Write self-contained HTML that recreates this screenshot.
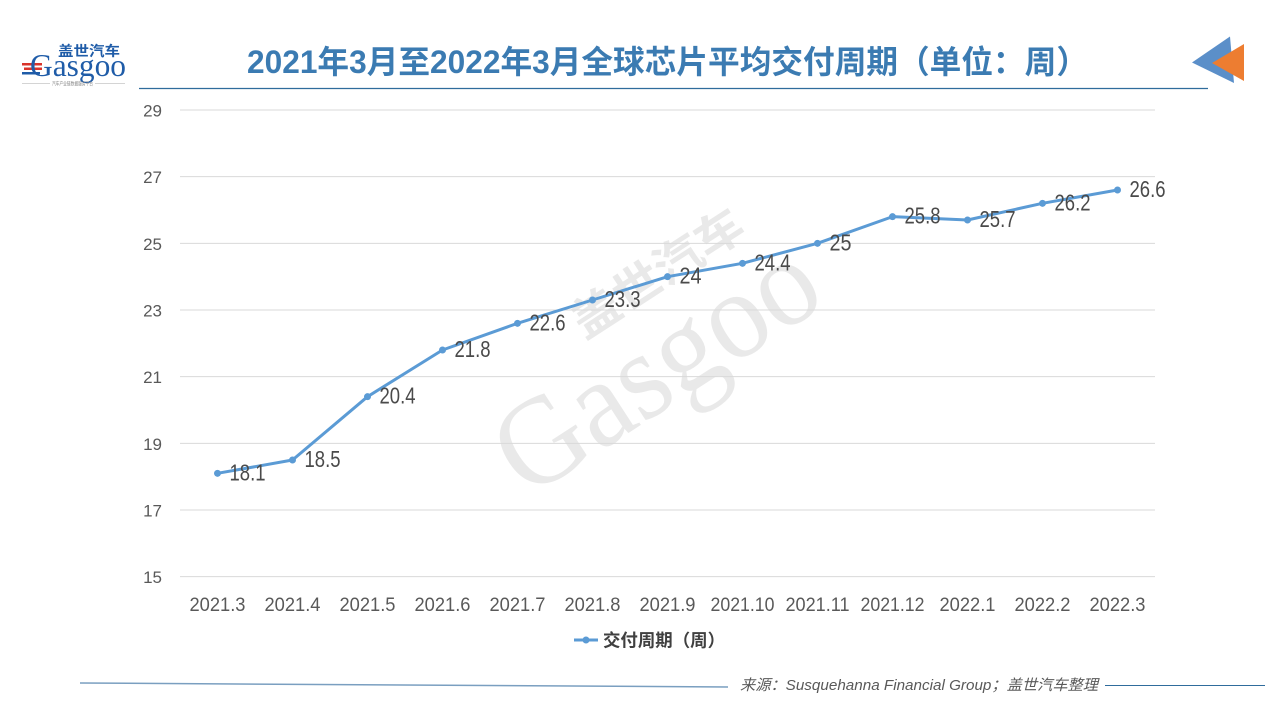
<!DOCTYPE html>
<html>
<head>
<meta charset="utf-8">
<style>
html,body{margin:0;padding:0;background:#fff;}
body{width:1280px;height:720px;overflow:hidden;}
svg{display:block;}
</style>
</head>
<body>
<svg width="1280" height="720" viewBox="0 0 1280 720" xmlns="http://www.w3.org/2000/svg" font-family="'Liberation Sans','Noto Sans CJK SC',sans-serif">
  <rect width="1280" height="720" fill="#ffffff"/>

  <!-- Logo -->
  <g>
    <text x="58" y="56" font-size="14" font-weight="bold" fill="#1f5ca8" textLength="62" lengthAdjust="spacingAndGlyphs" font-family="'Liberation Sans','Noto Sans CJK SC',sans-serif">盖世汽车</text>
    <rect x="22" y="63" width="20" height="2.5" fill="#d9332b"/>
    <rect x="24" y="67.5" width="18" height="2.5" fill="#d9332b"/>
    <rect x="22" y="72" width="18" height="2.5" fill="#1f5ca8"/>
    <text x="30" y="76" font-size="32" fill="#1f5ca8" textLength="96" lengthAdjust="spacingAndGlyphs" font-family="'Liberation Serif',serif">Gasgoo</text>
    <line x1="22" y1="83.5" x2="50" y2="83.5" stroke="#aaa" stroke-width="0.6"/>
    <line x1="95" y1="83.5" x2="125" y2="83.5" stroke="#aaa" stroke-width="0.6"/>
    <text x="52" y="85.5" font-size="5" fill="#888" textLength="41" lengthAdjust="spacingAndGlyphs">汽车产业链数据服务平台</text>
  </g>

  <!-- Title -->
  <text x="247" y="73" font-size="32" font-weight="bold" fill="#3b7bb2" textLength="841" lengthAdjust="spacingAndGlyphs">2021年3月至2022年3月全球芯片平均交付周期（单位：周）</text>
  <line x1="139" y1="88.5" x2="1208" y2="88.5" stroke="#2f6c9c" stroke-width="1.2"/>

  <!-- Arrows top-right -->
  <polygon points="1192,62.5 1230,36.5 1234,83" fill="#5b8fc9"/>
  <polygon points="1212,63 1244,44 1244,81" fill="#ed7d31"/>

  <!-- Watermark -->
  <g transform="translate(652,370) rotate(-33)" fill="#e9e9e9">
    <text x="-175" y="40" font-size="125" font-family="'Liberation Serif',serif" textLength="360" lengthAdjust="spacingAndGlyphs">Gasgoo</text>
    <text x="-40" y="-62" font-size="46" font-weight="bold" textLength="195" lengthAdjust="spacingAndGlyphs">盖世汽车</text>
  </g>

  <!-- Gridlines -->
  <g stroke="#d9d9d9" stroke-width="1">
    <line x1="180" y1="110" x2="1155" y2="110"/>
    <line x1="180" y1="176.67" x2="1155" y2="176.67"/>
    <line x1="180" y1="243.33" x2="1155" y2="243.33"/>
    <line x1="180" y1="310" x2="1155" y2="310"/>
    <line x1="180" y1="376.67" x2="1155" y2="376.67"/>
    <line x1="180" y1="443.33" x2="1155" y2="443.33"/>
    <line x1="180" y1="510" x2="1155" y2="510"/>
    <line x1="180" y1="576.67" x2="1155" y2="576.67"/>
  </g>

  <!-- Y labels -->
  <g font-size="17" fill="#595959" text-anchor="end">
    <text x="162" y="116.5">29</text>
    <text x="162" y="183.2">27</text>
    <text x="162" y="249.8">25</text>
    <text x="162" y="316.5">23</text>
    <text x="162" y="383.2">21</text>
    <text x="162" y="449.8">19</text>
    <text x="162" y="516.5">17</text>
    <text x="162" y="583.2">15</text>
  </g>

  <!-- X labels -->
  <g font-size="19.5" fill="#595959" text-anchor="middle">
    <text x="217.5" y="611" textLength="56" lengthAdjust="spacingAndGlyphs">2021.3</text>
    <text x="292.5" y="611" textLength="56" lengthAdjust="spacingAndGlyphs">2021.4</text>
    <text x="367.5" y="611" textLength="56" lengthAdjust="spacingAndGlyphs">2021.5</text>
    <text x="442.5" y="611" textLength="56" lengthAdjust="spacingAndGlyphs">2021.6</text>
    <text x="517.5" y="611" textLength="56" lengthAdjust="spacingAndGlyphs">2021.7</text>
    <text x="592.5" y="611" textLength="56" lengthAdjust="spacingAndGlyphs">2021.8</text>
    <text x="667.5" y="611" textLength="56" lengthAdjust="spacingAndGlyphs">2021.9</text>
    <text x="742.5" y="611" textLength="64" lengthAdjust="spacingAndGlyphs">2021.10</text>
    <text x="817.5" y="611" textLength="64" lengthAdjust="spacingAndGlyphs">2021.11</text>
    <text x="892.5" y="611" textLength="64" lengthAdjust="spacingAndGlyphs">2021.12</text>
    <text x="967.5" y="611" textLength="56" lengthAdjust="spacingAndGlyphs">2022.1</text>
    <text x="1042.5" y="611" textLength="56" lengthAdjust="spacingAndGlyphs">2022.2</text>
    <text x="1117.5" y="611" textLength="56" lengthAdjust="spacingAndGlyphs">2022.3</text>
  </g>

  <!-- Series -->
  <polyline fill="none" stroke="#5b9bd5" stroke-width="3" stroke-linejoin="round" stroke-linecap="round"
    points="217.5,473.33 292.5,460 367.5,396.67 442.5,350 517.5,323.33 592.5,300 667.5,276.67 742.5,263.33 817.5,243.33 892.5,216.67 967.5,220 1042.5,203.33 1117.5,190"/>
  <g fill="#5b9bd5">
    <circle cx="217.5" cy="473.33" r="3.5"/>
    <circle cx="292.5" cy="460" r="3.5"/>
    <circle cx="367.5" cy="396.67" r="3.5"/>
    <circle cx="442.5" cy="350" r="3.5"/>
    <circle cx="517.5" cy="323.33" r="3.5"/>
    <circle cx="592.5" cy="300" r="3.5"/>
    <circle cx="667.5" cy="276.67" r="3.5"/>
    <circle cx="742.5" cy="263.33" r="3.5"/>
    <circle cx="817.5" cy="243.33" r="3.5"/>
    <circle cx="892.5" cy="216.67" r="3.5"/>
    <circle cx="967.5" cy="220" r="3.5"/>
    <circle cx="1042.5" cy="203.33" r="3.5"/>
    <circle cx="1117.5" cy="190" r="3.5"/>
  </g>

  <!-- Data labels -->
  <g font-size="23" fill="#4a4a4a">
    <text x="229.5" y="480.3" textLength="36" lengthAdjust="spacingAndGlyphs">18.1</text>
    <text x="304.5" y="467" textLength="36" lengthAdjust="spacingAndGlyphs">18.5</text>
    <text x="379.5" y="403.7" textLength="36" lengthAdjust="spacingAndGlyphs">20.4</text>
    <text x="454.5" y="357" textLength="36" lengthAdjust="spacingAndGlyphs">21.8</text>
    <text x="529.5" y="330.3" textLength="36" lengthAdjust="spacingAndGlyphs">22.6</text>
    <text x="604.5" y="307" textLength="36" lengthAdjust="spacingAndGlyphs">23.3</text>
    <text x="679.5" y="283.7" textLength="22" lengthAdjust="spacingAndGlyphs">24</text>
    <text x="754.5" y="270.3" textLength="36" lengthAdjust="spacingAndGlyphs">24.4</text>
    <text x="829.5" y="250.3" textLength="22" lengthAdjust="spacingAndGlyphs">25</text>
    <text x="904.5" y="223.7" textLength="36" lengthAdjust="spacingAndGlyphs">25.8</text>
    <text x="979.5" y="227" textLength="36" lengthAdjust="spacingAndGlyphs">25.7</text>
    <text x="1054.5" y="210.3" textLength="36" lengthAdjust="spacingAndGlyphs">26.2</text>
    <text x="1129.5" y="197" textLength="36" lengthAdjust="spacingAndGlyphs">26.6</text>
  </g>

  <!-- Legend -->
  <line x1="574" y1="640" x2="598" y2="640" stroke="#5b9bd5" stroke-width="3"/>
  <circle cx="586" cy="640" r="3.5" fill="#5b9bd5"/>
  <text x="603" y="646.5" font-size="17.5" font-weight="bold" fill="#404040" textLength="122" lengthAdjust="spacingAndGlyphs">交付周期（周）</text>

  <!-- Footer -->
  <line x1="80" y1="683" x2="728" y2="687" stroke="#7a9fc0" stroke-width="1.5"/>
  <text x="740" y="690" font-size="15" font-style="italic" fill="#595959" textLength="358" lengthAdjust="spacingAndGlyphs">来源：Susquehanna Financial Group；盖世汽车整理</text>
  <line x1="1105" y1="685.5" x2="1265" y2="685.5" stroke="#2f6c9c" stroke-width="1"/>
</svg>
</body>
</html>
